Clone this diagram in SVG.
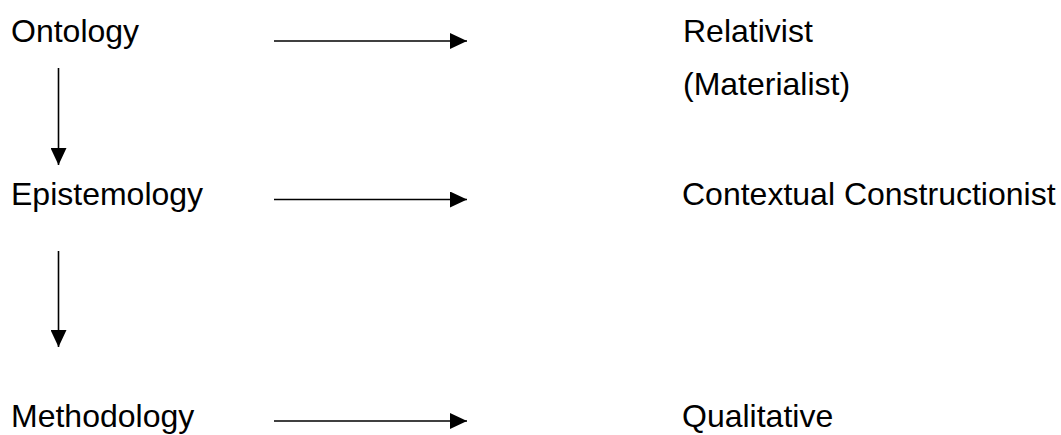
<svg xmlns="http://www.w3.org/2000/svg" width="1061" height="435" viewBox="0 0 1061 435">
  <style>
    .lbl { font-family: "Liberation Sans", Arial, sans-serif; font-size: 32px; fill: #000; }
    .conn { stroke: #000; stroke-width: 1.6; fill: none; }
  </style>
  <defs>
    <marker id="ah" markerUnits="userSpaceOnUse" markerWidth="17" markerHeight="16" refX="17" refY="8" orient="auto">
      <path d="M0,0 L17,8 L0,16 Z" fill="#000"/>
    </marker>
  </defs>
  <rect width="1061" height="435" fill="#fff"/>
  <g id="connectors">
    <line class="conn" x1="274" y1="41" x2="467" y2="41" marker-end="url(#ah)"/>
    <line class="conn" x1="274" y1="199.5" x2="467" y2="199.5" marker-end="url(#ah)"/>
    <line class="conn" x1="274" y1="421" x2="467" y2="421" marker-end="url(#ah)"/>
    <line class="conn" x1="58.5" y1="68" x2="58.5" y2="165" marker-end="url(#ah)"/>
    <line class="conn" x1="58.5" y1="251" x2="58.5" y2="347" marker-end="url(#ah)"/>
  </g>
  <g id="ontology"><text class="lbl" x="11" y="42">Ontology</text></g>
  <g id="epistemology"><text class="lbl" x="11" y="205">Epistemology</text></g>
  <g id="methodology"><text class="lbl" x="11" y="427">Methodology</text></g>
  <g id="relativist">
    <text class="lbl" x="683" y="42">Relativist</text>
    <text class="lbl" x="683" y="95">(Materialist)</text>
  </g>
  <g id="contextual"><text class="lbl" x="682" y="205">Contextual Constructionist</text></g>
  <g id="qualitative"><text class="lbl" x="682" y="427">Qualitative</text></g>
</svg>
